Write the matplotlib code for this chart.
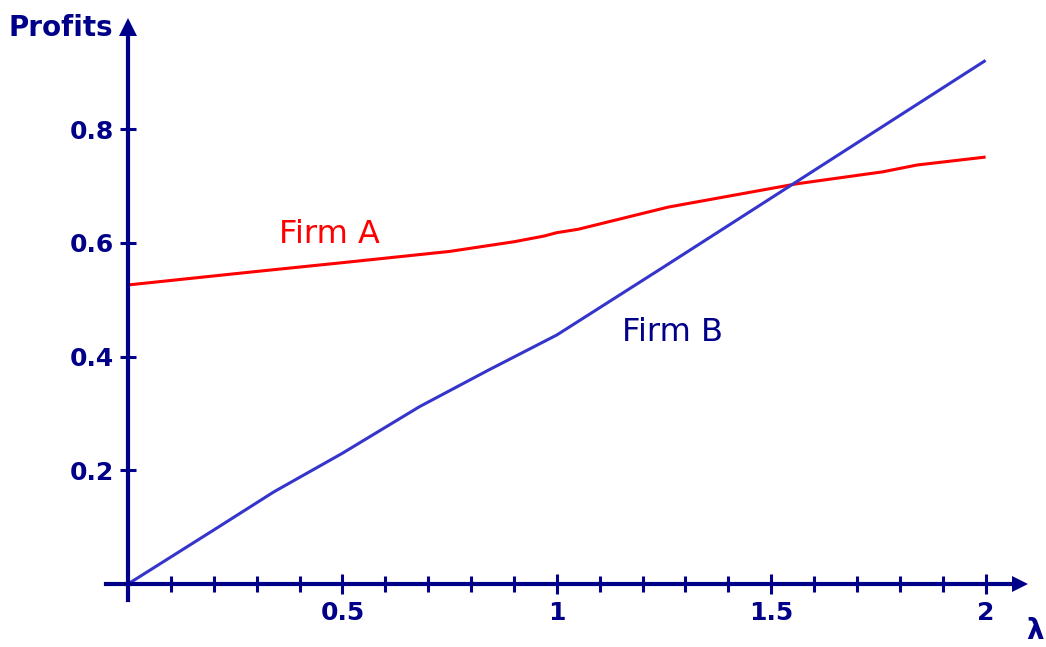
import matplotlib
matplotlib.use("Agg")
import matplotlib.pyplot as plt
import numpy as np

# Data
lam_a = [0.0, 0.29, 0.51, 0.75, 0.90, 0.97, 1.00, 1.05, 1.26, 1.56, 1.76, 1.84, 2.0]
profit_a = [0.526, 0.549, 0.566, 0.585, 0.602, 0.612, 0.618, 0.624, 0.663, 0.704, 0.725, 0.737, 0.751]
lam_b = [0.0, 0.20, 0.34, 0.50, 0.68, 0.84, 1.00, 1.25, 1.50, 1.75, 2.0]
profit_b = [0.0, 0.095, 0.162, 0.230, 0.312, 0.376, 0.438, 0.558, 0.679, 0.800, 0.921]

x_major = [0.5, 1, 1.5, 2]
x_major_labels = ["0.5", "1", "1.5", "2"]
x_minor = list(np.round(np.arange(0.1, 2.01, 0.1), 2))
y_major = [0.2, 0.4, 0.6, 0.8]
y_major_labels = ["0.2", "0.4", "0.6", "0.8"]

NAVY = "#000088"
RED = "#ff0000"
BLUE = "#3535cc"

fig = plt.figure(figsize=(10.46, 6.47), dpi=100)
ax = fig.add_axes([0, 0, 1, 1])
ax.set_xlim(-128 / 428.8, (1046 - 128) / 428.8)
ax.set_ylim((584 - 647) / 568.5, 584 / 568.5)

ax.plot(lam_a, profit_a, color=RED, lw=2.2, solid_capstyle="butt", zorder=3)
ax.plot(lam_b, profit_b, color=BLUE, lw=2.2, solid_capstyle="butt", zorder=3)

# spines as axes through origin
for s in ["top", "right"]:
    ax.spines[s].set_visible(False)
ax.spines["left"].set_position(("data", 0))
ax.spines["bottom"].set_position(("data", 0))
ax.spines["left"].set_bounds(-0.028, 0.97)
ax.spines["bottom"].set_bounds(-0.051, 2.07)
for s in ["left", "bottom"]:
    ax.spines[s].set_color(NAVY)
    ax.spines[s].set_linewidth(3)
    ax.spines[s].set_zorder(4)

# arrow heads
ax.plot([2.080], [0], marker=">", ms=11.5, color=NAVY, mew=0, clip_on=False, zorder=5)
ax.plot([0], [0.980], marker="^", ms=13, color=NAVY, mew=0, clip_on=False, zorder=5)

ax.set_xticks(x_major)
ax.set_xticklabels(x_major_labels)
ax.set_xticks(x_minor, minor=True)
ax.set_yticks(y_major)
ax.set_yticklabels(y_major_labels)

ax.tick_params(axis="x", which="major", direction="inout", length=14, width=2.2,
               color=NAVY, labelcolor=NAVY, labelsize=18, pad=5)
ax.tick_params(axis="x", which="minor", direction="inout", length=11.5, width=2.2,
               color=NAVY)
ax.tick_params(axis="y", which="major", direction="inout", length=12, width=2.2,
               color=NAVY, labelcolor=NAVY, labelsize=18, pad=4)
for lab in ax.get_xticklabels() + ax.get_yticklabels():
    lab.set_fontweight("bold")

ax.text(0.352, 0.60, "Firm A", color=RED, fontsize=23, ha="left", va="baseline")
ax.text(1.152, 0.428, "Firm B", color=NAVY, fontsize=23, ha="left", va="baseline")

fig.text(113 / 1046, 1 - 36 / 647, "Profits", color=NAVY, fontsize=20,
         fontweight="bold", ha="right", va="baseline")
fig.text(1044 / 1046, 1 - 645 / 647, "λ", color=NAVY, fontsize=20,
         fontweight="bold", ha="right", va="bottom")

fig.savefig("out.png", dpi=100, facecolor="white")
